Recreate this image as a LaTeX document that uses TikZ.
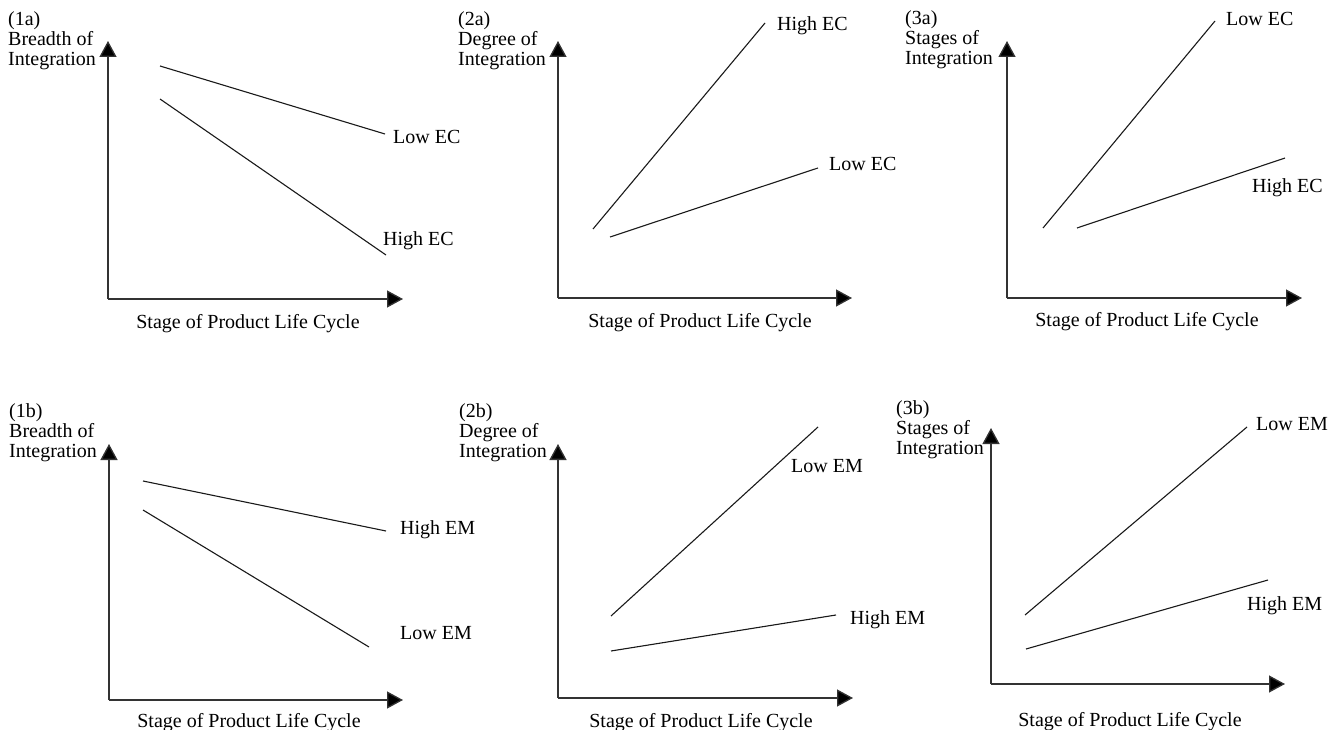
\documentclass[tikz,border=0pt]{standalone}
\usepackage{fontspec}
\setmainfont{Liberation Serif}
\usetikzlibrary{arrows.meta}

\tikzset{
  axis/.style={-{Triangle[length=16pt,width=17pt,fill=black]}, line width=1.3pt, draw=black!80},
  trend/.style={line width=1.1pt, draw=black!90},
  lbl/.style={anchor=base west, inner sep=0pt, font=\fontsize{20}{20}\selectfont},
  xlab/.style={anchor=base, inner sep=0pt, font=\fontsize{20}{20}\selectfont},
  ylab/.style={anchor=north west, align=left, inner sep=0pt, font=\fontsize{20}{20}\selectfont},
}

\begin{document}
\begin{tikzpicture}[x=1pt,y=-1pt]
\useasboundingbox (0,0) rectangle (1336,730);

% ---------- (1a) ----------
\coordinate (o1a) at (108,299);
\coordinate (y1a) at (108,41);
\coordinate (x1a) at (403,299);
\draw[axis] (o1a) -- (y1a);
\draw[axis] (o1a) -- (x1a);
\coordinate (a1s) at (160,66);  \coordinate (a1e) at (385,134);
\coordinate (b1s) at (160,99);  \coordinate (b1e) at (386,255);
\draw[trend] (a1s) -- (a1e);
\draw[trend] (b1s) -- (b1e);
\node[ylab] (t1a) at (8,11) {(1a)\\Breadth of\\Integration};
\node[lbl] (l1a1) at (393,144) {Low EC};
\node[lbl] (l1a2) at (383,246) {High EC};
\node[xlab] (s1a) at (248,328) {Stage of Product Life Cycle};

% ---------- (2a) ----------
\coordinate (o2a) at (558,298);
\coordinate (y2a) at (558,41);
\coordinate (x2a) at (852,298);
\draw[axis] (o2a) -- (y2a);
\draw[axis] (o2a) -- (x2a);
\coordinate (a2s) at (593,229);  \coordinate (a2e) at (765,23);
\coordinate (b2s) at (610,237);  \coordinate (b2e) at (818,168);
\draw[trend] (a2s) -- (a2e);
\draw[trend] (b2s) -- (b2e);
\node[ylab] (t2a) at (458,11) {(2a)\\Degree of\\Integration};
\node[lbl] (l2a1) at (777,31) {High EC};
\node[lbl] (l2a2) at (829,171) {Low EC};
\node[xlab] (s2a) at (700,327) {Stage of Product Life Cycle};

% ---------- (3a) ----------
\coordinate (o3a) at (1007,298);
\coordinate (y3a) at (1007,41);
\coordinate (x3a) at (1302,298);
\draw[axis] (o3a) -- (y3a);
\draw[axis] (o3a) -- (x3a);
\coordinate (a3s) at (1043,228);  \coordinate (a3e) at (1215,21);
\coordinate (b3s) at (1077,228);  \coordinate (b3e) at (1285,158);
\draw[trend] (a3s) -- (a3e);
\draw[trend] (b3s) -- (b3e);
\node[ylab] (t3a) at (905,10) {(3a)\\Stages of\\Integration};
\node[lbl] (l3a1) at (1226,26) {Low EC};
\node[lbl] (l3a2) at (1252,193) {High EC};
\node[xlab] (s3a) at (1147,326) {Stage of Product Life Cycle};

% ---------- (1b) ----------
\coordinate (o1b) at (109,700);
\coordinate (y1b) at (109,444);
\coordinate (x1b) at (403,700);
\draw[axis] (o1b) -- (y1b);
\draw[axis] (o1b) -- (x1b);
\coordinate (a4s) at (143,481);  \coordinate (a4e) at (386,531);
\coordinate (b4s) at (143,510);  \coordinate (b4e) at (369,647);
\draw[trend] (a4s) -- (a4e);
\draw[trend] (b4s) -- (b4e);
\node[ylab] (t1b) at (9,403) {(1b)\\Breadth of\\Integration};
\node[lbl] (l1b1) at (400,534) {High EM};
\node[lbl] (l1b2) at (400,639) {Low EM};
\node[xlab] (s1b) at (249,727) {Stage of Product Life Cycle};

% ---------- (2b) ----------
\coordinate (o2b) at (558,698);
\coordinate (y2b) at (558,444);
\coordinate (x2b) at (853,698);
\draw[axis] (o2b) -- (y2b);
\draw[axis] (o2b) -- (x2b);
\coordinate (a5s) at (611,616);  \coordinate (a5e) at (818,427);
\coordinate (b5s) at (611,651);  \coordinate (b5e) at (836,615);
\draw[trend] (a5s) -- (a5e);
\draw[trend] (b5s) -- (b5e);
\node[ylab] (t2b) at (459,403) {(2b)\\Degree of\\Integration};
\node[lbl] (l2b1) at (791,472) {Low EM};
\node[lbl] (l2b2) at (850,624) {High EM};
\node[xlab] (s2b) at (701,727) {Stage of Product Life Cycle};

% ---------- (3b) ----------
\coordinate (o3b) at (991,684);
\coordinate (y3b) at (991,428);
\coordinate (x3b) at (1285,684);
\draw[axis] (o3b) -- (y3b);
\draw[axis] (o3b) -- (x3b);
\coordinate (a6s) at (1025,615);  \coordinate (a6e) at (1247,427);
\coordinate (b6s) at (1026,649);  \coordinate (b6e) at (1268,580);
\draw[trend] (a6s) -- (a6e);
\draw[trend] (b6s) -- (b6e);
\node[ylab] (t3b) at (896,400) {(3b)\\Stages of\\Integration};
\node[lbl] (l3b1) at (1256,430) {Low EM};
\node[lbl] (l3b2) at (1247,610) {High EM};
\node[xlab] (s3b) at (1130,726) {Stage of Product Life Cycle};
\end{tikzpicture}
\end{document}
